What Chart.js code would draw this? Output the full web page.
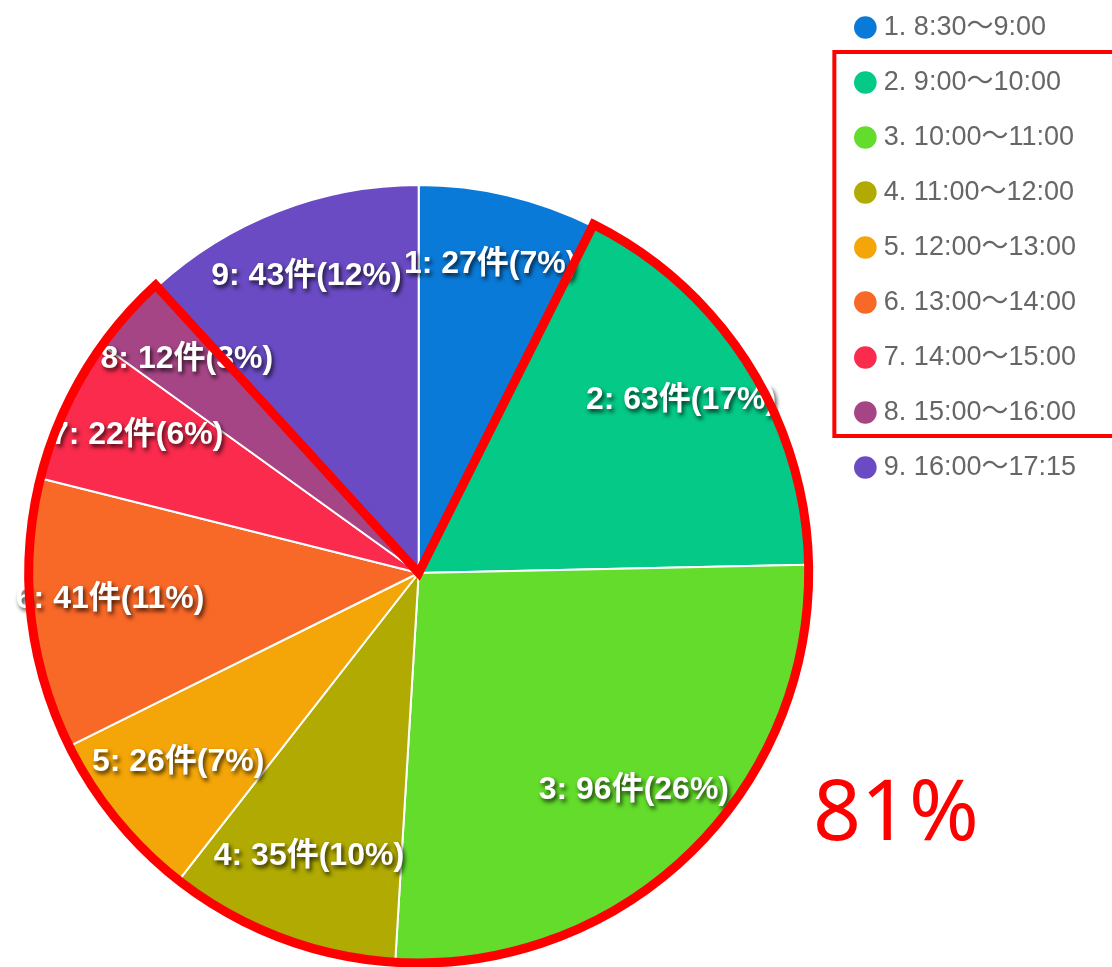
<!DOCTYPE html>
<html>
<head>
<meta charset="utf-8">
<script src="https://cdn.jsdelivr.net/npm/chart.js@4"></script>
<style>
  html, body { margin: 0; padding: 0; background: #fff; overflow: hidden; }
  #wrap { position: relative; width: 1112px; height: 967px; overflow: hidden; }
  #miGrafica { position: absolute; left: 0; top: -14px; }
</style>
</head>
<body>
<div id="wrap">
  <canvas id="miGrafica" width="1112" height="1174"></canvas>
</div>
<script>
// Datos del gráfico
const franjas = ['1. 8:30～9:00', '2. 9:00～10:00', '3. 10:00～11:00', '4. 11:00～12:00',
  '5. 12:00～13:00', '6. 13:00～14:00', '7. 14:00～15:00', '8. 15:00～16:00', '9. 16:00～17:15'];
const numeros = ['1', '2', '3', '4', '5', '6', '7', '8', '9'];
const cantidades = [27, 63, 96, 35, 26, 41, 22, 12, 43];
const colores = ['#0a7ad8', '#04c987', '#63dc2b', '#b0aa02', '#f4a608',
  '#f86827', '#fa2b4d', '#a64586', '#6a4bc4'];
const resaltados = [1, 7];       // primera y última porción marcadas en rojo
const textoResaltado = '81%';

const total = cantidades.reduce((a, b) => a + b, 0);

// Etiquetas blancas dentro de cada porción
const etiquetasPlugin = {
  id: 'etiquetas',
  afterDatasetsDraw(chart) {
    const ctx = chart.ctx;
    const meta = chart.getDatasetMeta(0);
    ctx.save();
    ctx.font = 'bold 32px "Liberation Sans", "Noto Sans CJK JP", sans-serif';
    ctx.textAlign = 'center';
    ctx.textBaseline = 'middle';
    ctx.fillStyle = '#fff';
    ctx.shadowColor = 'rgba(0,0,0,0.75)';
    ctx.shadowBlur = 4;
    ctx.shadowOffsetX = 2;
    ctx.shadowOffsetY = 3;
    meta.data.forEach((arc, i) => {
      const p = arc.getProps(['x', 'y', 'startAngle', 'endAngle', 'outerRadius'], true);
      const mid = (p.startAngle + p.endAngle) / 2;
      const r = p.outerRadius * 0.8;
      const pct = Math.round(cantidades[i] / total * 100);
      const texto = numeros[i] + ': ' + cantidades[i] + '件(' + pct + '%)';
      ctx.fillText(texto, p.x + Math.cos(mid) * r, p.y + Math.sin(mid) * r - 7);
    });
    ctx.restore();
  }
};

// Contorno rojo y recuadro de la leyenda
const resaltePlugin = {
  id: 'resalte',
  afterDraw(chart) {
    const ctx = chart.ctx;
    const meta = chart.getDatasetMeta(0);
    const a = meta.data[resaltados[0]].getProps(['x', 'y', 'startAngle', 'outerRadius'], true);
    const b = meta.data[resaltados[1]].getProps(['endAngle'], true);
    const R = a.outerRadius + 2;
    ctx.save();
    ctx.strokeStyle = '#ff0000';
    ctx.lineWidth = 9;
    ctx.lineJoin = 'miter';
    ctx.beginPath();
    ctx.moveTo(a.x, a.y);
    ctx.lineTo(a.x + Math.cos(a.startAngle) * R, a.y + Math.sin(a.startAngle) * R);
    ctx.arc(a.x, a.y, R, a.startAngle, b.endAngle);
    ctx.closePath();
    ctx.stroke();

    const cajas = chart.legend.legendHitBoxes;
    const c1 = cajas[resaltados[0]];
    const c2 = cajas[resaltados[1]];
    ctx.lineWidth = 4;
    ctx.strokeRect(c1.left - 26, c1.top - 17, 400, c2.top + c2.height - c1.top + 27);

    ctx.font = '84px "Noto Sans", sans-serif';
    ctx.fillStyle = '#ff0000';
    ctx.textBaseline = 'alphabetic';
    ctx.fillText(textoResaltado, 813, 854);
    ctx.restore();
  }
};

const ctx = document.getElementById('miGrafica').getContext('2d');
const miGrafica = new Chart(ctx, {
  type: 'pie',
  data: {
    labels: franjas,
    datasets: [{
      data: cantidades,
      backgroundColor: colores,
      borderColor: '#ffffff',
      borderWidth: 2
    }]
  },
  options: {
    responsive: false,
    animation: false,
    radius: 388,
    layout: { padding: { left: 5, right: 26 } },
    plugins: {
      tooltip: { enabled: false },
      legend: {
        position: 'right',
        align: 'start',
        labels: {
          usePointStyle: true,
          pointStyle: 'circle',
          boxWidth: 10,
          boxHeight: 16,
          padding: 28,
          color: '#666',
          font: { size: 27, family: '"Liberation Sans", "Noto Sans CJK JP", sans-serif' },
          generateLabels(chart) {
            return Chart.overrides.pie.plugins.legend.labels.generateLabels(chart)
              .map(l => Object.assign(l, { lineWidth: 0, strokeStyle: l.fillStyle }));
          }
        }
      }
    }
  },
  plugins: [etiquetasPlugin, resaltePlugin]
});
</script>
</body>
</html>
